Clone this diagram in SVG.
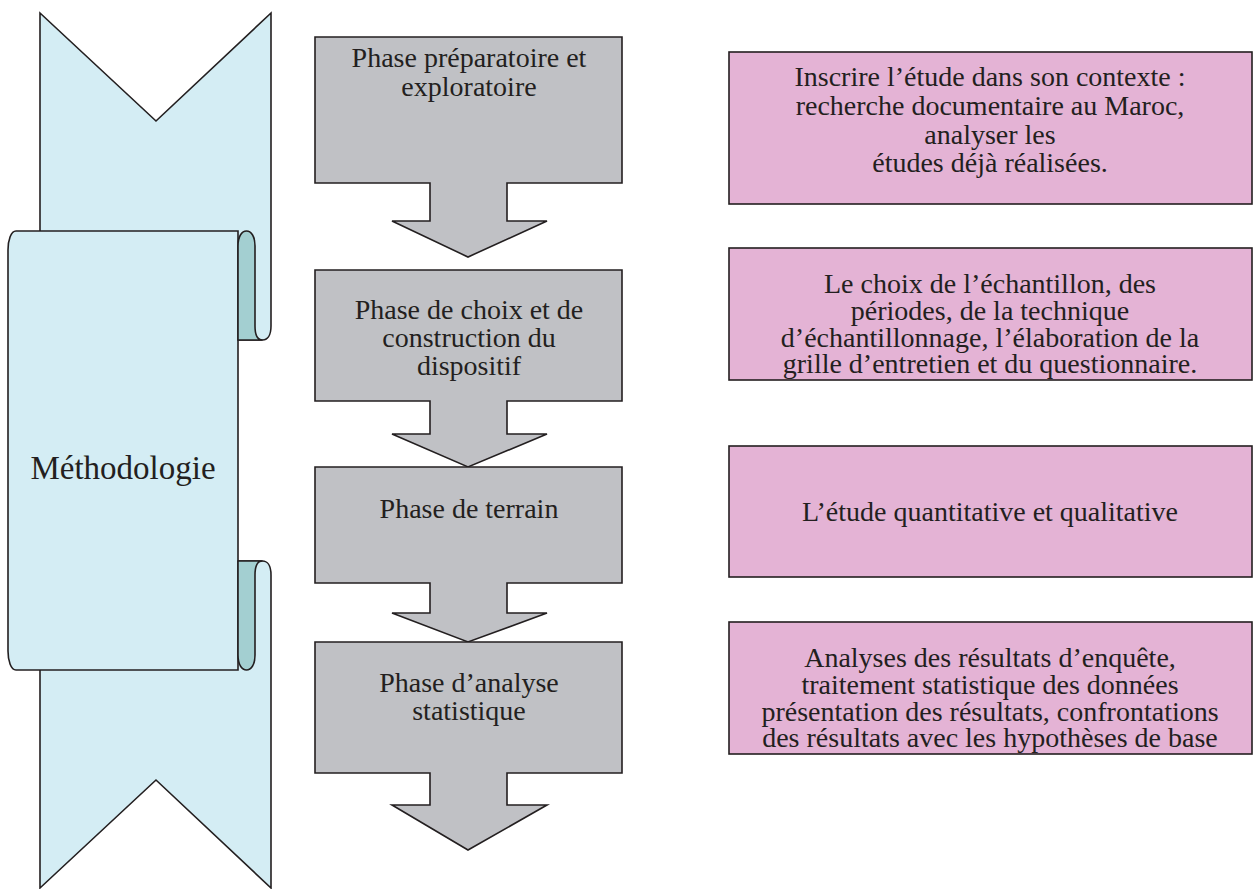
<svg xmlns="http://www.w3.org/2000/svg" width="1256" height="889" viewBox="0 0 1256 889">
<style>
.ln{stroke:#231f20;stroke-width:1.6;stroke-linejoin:miter}
.rib{fill:#d4edf4}
.fold{fill:#a3cfd1}
.phase{fill:#c0c1c5}
.desc{fill:#e4b3d5}
text{font-family:"Liberation Serif","Times New Roman",serif;fill:#231f20;text-anchor:middle}
.t{font-size:28px}
.big{font-size:33px}
</style>
<rect width="1256" height="889" fill="#ffffff"/>
<g id="ribbon">
  <g id="ribbon-top">
    <path class="ln rib" d="M40,13 L156,121 L271,13 L271,326 C271,336 267,340 262.5,340 L40,340 Z"/>
  </g>
  <g id="ribbon-bottom" transform="translate(0,901) scale(1,-1)">
    <path class="ln rib" d="M40,13 L156,121 L271,13 L271,326 C271,336 267,340 262.5,340 L40,340 Z"/>
  </g>
  <path class="ln rib" d="M238,231 H16 C11,231 8,240 8,250 V651 C8,661 11,670 16,670 H238 Z"/>
  <path class="ln fold" d="M238,340 V246 C238,236 242,231 246.5,231 C251,231 255,236 255,246 V326 C255,336 258,340 262.5,340 Z"/>
  <path class="ln fold" transform="translate(0,901) scale(1,-1)" d="M238,340 V246 C238,236 242,231 246.5,231 C251,231 255,236 255,246 V326 C255,336 258,340 262.5,340 Z"/>
  <text class="big" x="123" y="479">Méthodologie</text>
</g>
<g id="connectors"></g>
<g id="phase1">
  <path class="ln phase" d="M315,37 H622 V183 H507 V221 H547 L468,257 L392,221 H430 V183 H315 Z"/>
  <text class="t" x="469" y="67">Phase préparatoire et</text>
  <text class="t" x="469" y="96">exploratoire</text>
</g>
<g id="phase2">
  <path class="ln phase" d="M315,270 H622 V401 H507 V434 H547 L468,467 L392,434 H430 V401 H315 Z"/>
  <text class="t" x="469" y="319">Phase de choix et de</text>
  <text class="t" x="469" y="347">construction du</text>
  <text class="t" x="469" y="375">dispositif</text>
</g>
<g id="phase3">
  <path class="ln phase" d="M315,467 H622 V583 H507 V613 H547 L468,642 L392,613 H430 V583 H315 Z"/>
  <text class="t" x="469" y="518">Phase de terrain</text>
</g>
<g id="phase4">
  <path class="ln phase" d="M315,642 H622 V773 H507 V805 H547 L468,850 L392,805 H430 V773 H315 Z"/>
  <text class="t" x="469" y="692">Phase d’analyse</text>
  <text class="t" x="469" y="720">statistique</text>
</g>
<g id="desc1">
  <rect class="ln desc" x="729" y="52" width="523" height="152"/>
  <text class="t" x="990" y="86">Inscrire l’étude dans son contexte :</text>
  <text class="t" x="990" y="115">recherche documentaire au Maroc,</text>
  <text class="t" x="990" y="144">analyser les</text>
  <text class="t" x="990" y="172">études déjà réalisées.</text>
</g>
<g id="desc2">
  <rect class="ln desc" x="729" y="248" width="523" height="132"/>
  <text class="t" x="990" y="293">Le choix de l’échantillon, des</text>
  <text class="t" x="990" y="320">périodes, de la technique</text>
  <text class="t" x="990" y="347">d’échantillonnage, l’élaboration de la</text>
  <text class="t" x="990" y="373">grille d’entretien et du questionnaire.</text>
</g>
<g id="desc3">
  <rect class="ln desc" x="729" y="446" width="523" height="131"/>
  <text class="t" x="990" y="521">L’étude quantitative et qualitative</text>
</g>
<g id="desc4">
  <rect class="ln desc" x="729" y="622" width="523" height="132"/>
  <text class="t" x="990" y="667">Analyses des résultats d’enquête,</text>
  <text class="t" x="990" y="694">traitement statistique des données</text>
  <text class="t" x="990" y="721">présentation des résultats, confrontations</text>
  <text class="t" x="990" y="747">des résultats avec les hypothèses de base</text>
</g>
</svg>
